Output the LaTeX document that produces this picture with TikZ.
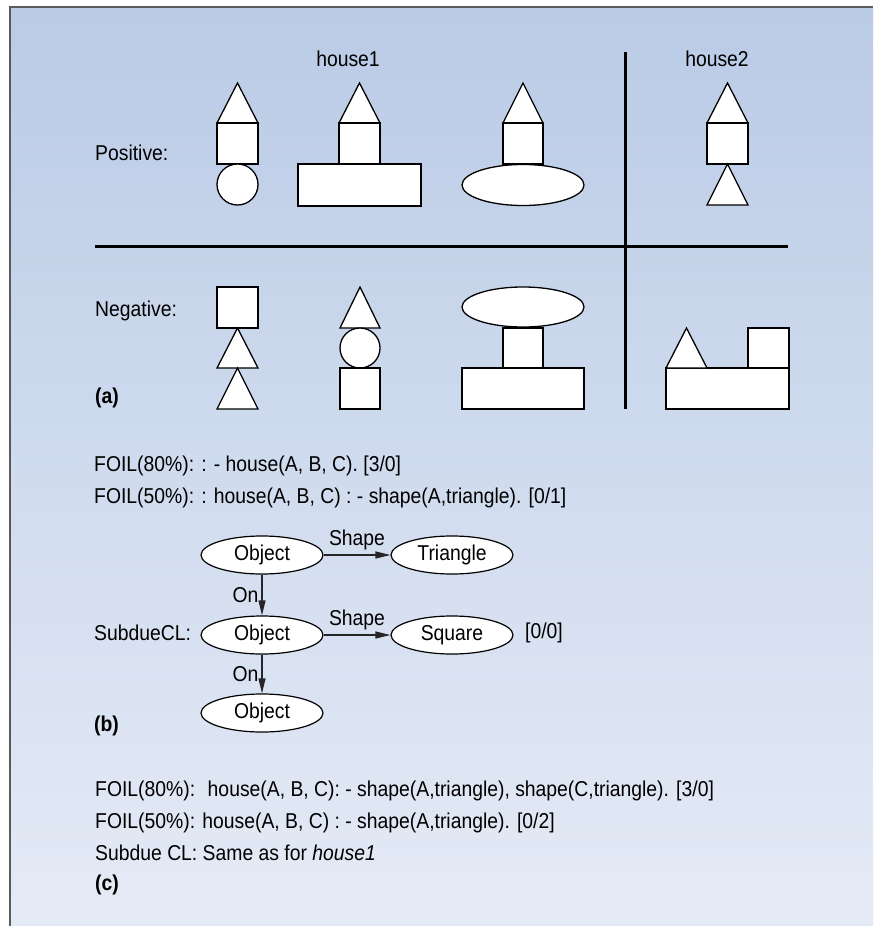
\documentclass[tikz,border=0pt]{standalone}
\usepackage{fontspec}
\setmainfont{Liberation Sans}[FakeStretch=0.9]
\usetikzlibrary{shapes.geometric,arrows.meta}
\definecolor{bgtop}{RGB}{186,203,230}
\definecolor{bgbot}{RGB}{229,235,246}
\definecolor{framec}{RGB}{90,90,90}
\newcommand{\txtfont}{\fontsize{21.5}{24}\selectfont}
\tikzset{
  shp/.style={draw=black, fill=white, line width=1.3pt, line join=miter},
  divider/.style={draw=black, line width=3pt},
  txt/.style={font=\txtfont, inner sep=0pt, anchor=base west},
  ctxt/.style={font=\txtfont, inner sep=0pt, anchor=base},
  obj/.style={ellipse, draw=black, fill=white, line width=1.2pt, minimum width=122pt, minimum height=38pt, inner sep=0pt, font=\txtfont},
  arr/.style={draw=black!85, line width=1.2pt, -{Triangle[length=15pt,width=7pt]}},
  elbl/.style={font=\txtfont, inner sep=0pt}
}
\begin{document}
\begin{tikzpicture}[x=1pt,y=-1pt]
\useasboundingbox (0,0) rectangle (873,926);
\fill[white] (0,0) rectangle (873,926);
\shade[top color=bgtop, bottom color=bgbot] (10,7) rectangle (873,926);
\draw[framec, line width=1.5pt] (10,926) -- (10,7) -- (873,7);

% ---------- (a) ----------
\node[ctxt] (h1) at (348,66) {house1};
\node[ctxt] (h2) at (717,66) {house2};
\node[txt] (pos) at (95,160) {Positive:};
\node[txt] (neg) at (95,316) {Negative:};
\node[txt] (la) at (95,403) {\bfseries (a)};

\draw[divider] (95,246) -- (788,246);
\draw[divider] (625,52) -- (625,409);

% positive house1, example 1
\draw[shp] (217,123) -- (237.5,83) -- (258,123) -- cycle;
\draw[shp] (217,123) rectangle (258,164);
\draw[shp] (237.5,184.5) circle (20.5);
% example 2
\draw[shp] (339,123) -- (359.5,83) -- (380,123) -- cycle;
\draw[shp] (298,164) rectangle (421,206);
\draw[shp] (339,123) rectangle (380,164);
% example 3
\draw[shp] (503,123) -- (523,83) -- (543,123) -- cycle;
\draw[shp] (523,185) ellipse (61 and 20.5);
\draw[shp] (503,123) rectangle (543,164);
% positive house2
\draw[shp] (707,123) -- (727.5,83) -- (748,123) -- cycle;
\draw[shp] (707,123) rectangle (748,164);
\draw[shp] (707,205) -- (727.5,164) -- (748,205) -- cycle;

% negative 1
\draw[shp] (217,287) rectangle (258,328);
\draw[shp] (217,368) -- (237.5,328) -- (258,368) -- cycle;
\draw[shp] (217,409) -- (237.5,368) -- (258,409) -- cycle;
% negative 2
\draw[shp] (340,328) -- (360,287) -- (380,328) -- cycle;
\draw[shp] (360,348) circle (20);
\draw[shp] (340,368) rectangle (380,409);
% negative 3
\draw[shp] (523,307) ellipse (61 and 20);
\draw[shp] (503,328) rectangle (543,368);
\draw[shp] (462,368) rectangle (584,409);
% negative 4
\draw[shp] (666,368) rectangle (789,409);
\draw[shp] (666,368) -- (686.5,328) -- (707,368) -- cycle;
\draw[shp] (748,328) rectangle (789,368);

% ---------- (b) ----------
\node[txt] (f1) at (94,471) {FOIL(80\%): : - house(A, B, C). [3/0]};
\node[txt] (f2) at (94,503) {FOIL(50\%): : house(A, B, C) : - shape(A,triangle). [0/1]};

\node[obj] (o1) at (262,555) {Object};
\node[obj] (tr) at (452,555) {Triangle};
\node[obj] (o2) at (262,635) {Object};
\node[obj] (sq) at (452,635) {Square};
\node[obj] (o3) at (262,713) {Object};

\draw[arr] (o1) -- node[elbl, above=4pt] {Shape} (tr);
\draw[arr] (o2) -- node[elbl, above=4pt] {Shape} (sq);
\draw[arr] (o1) -- node[elbl, left=3pt] {On} (o2);
\draw[arr] (o2) -- node[elbl, left=3pt] {On} (o3);

\node[txt] (sub) at (94,640) {SubdueCL:};
\node[txt] (res) at (525,638) {[0/0]};
\node[txt] (lb) at (94,731) {\bfseries (b)};

% ---------- (c) ----------
\node[txt] (c1) at (95,796) {FOIL(80\%): \ house(A, B, C): - shape(A,triangle), shape(C,triangle). [3/0]};
\node[txt] (c2) at (95,828) {FOIL(50\%): house(A, B, C) : - shape(A,triangle). [0/2]};
\node[txt] (c3) at (95,860) {Subdue CL: Same as for \textit{house1}};
\node[txt] (lc) at (95,890) {\bfseries (c)};
\end{tikzpicture}
\end{document}
